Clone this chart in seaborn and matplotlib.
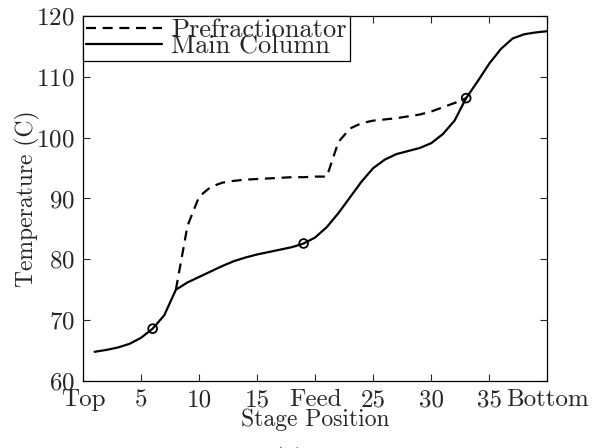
import numpy as np
import pandas as pd
import matplotlib
matplotlib.use("Agg")
import matplotlib.pyplot as plt
import seaborn as sns

# ========== DATOS ==========
stages_main = list(range(1, 41))
temp_main = [64.8, 65.1, 65.5, 66.1, 67.1, 68.6, 70.8, 75.0, 76.2, 77.1,
             78.0, 78.9, 79.7, 80.3, 80.8, 81.2, 81.6, 82.0, 82.6, 83.6,
             85.3, 87.6, 90.2, 92.8, 95.0, 96.4, 97.3, 97.8, 98.3, 99.1,
             100.6, 102.8, 106.5, 109.3, 112.2, 114.6, 116.3, 117.0, 117.3, 117.5]

stages_pre = list(range(8, 34))
temp_pre = [75.0, 85.5, 90.3, 91.9, 92.6, 92.9, 93.1, 93.2, 93.3, 93.4,
            93.5, 93.5, 93.6, 93.6, 99.3, 101.5, 102.4, 102.8, 103.0, 103.2,
            103.5, 103.8, 104.3, 105.0, 105.7, 106.5]

link_stages = [6, 19, 33]
link_temps = [68.6, 82.6, 106.5]

xtick_pos = [0, 5, 10, 15, 20, 25, 30, 35, 40]
xtick_labels = ["Top", "5", "10", "15", "Feed", "25", "30", "35", "Bottom"]
ytick_pos = [60, 70, 80, 90, 100, 110, 120]

df_main = pd.DataFrame({"Stage": stages_main, "Temp": temp_main})
df_pre = pd.DataFrame({"Stage": stages_pre, "Temp": temp_pre})
df_link = pd.DataFrame({"Stage": link_stages, "Temp": link_temps})

# ========== ESTILO ==========
sns.set_style("ticks")
plt.rcParams["font.family"] = ["cmr10", "DejaVu Serif"]
plt.rcParams["axes.unicode_minus"] = False
plt.rcParams["axes.formatter.use_mathtext"] = True

fig = plt.figure(figsize=(5.97, 4.48), dpi=100)
ax = fig.add_axes([0.139, 0.1496, 0.778, 0.8147])

# ========== GRAFICA ==========
sns.lineplot(data=df_pre, x="Stage", y="Temp", ax=ax, color="black",
             linestyle=(0, (4.5, 3)), linewidth=1.6, label="Prefractionator")
sns.lineplot(data=df_main, x="Stage", y="Temp", ax=ax, color="black",
             linewidth=1.6, label="Main Column")
ax.scatter(df_link["Stage"], df_link["Temp"], s=40, facecolors="none",
           edgecolors="black", linewidths=1.3, zorder=5)

ax.set_xlim(0, 40)
ax.set_ylim(60, 120)
ax.set_xticks(xtick_pos)
ax.set_xticklabels(xtick_labels)
ax.set_yticks(ytick_pos)
ax.tick_params(direction="in", length=5, width=0.8, top=True, right=True,
               labelsize=18, pad=6)
for s in ax.spines.values():
    s.set_linewidth(0.9)
    s.set_color("black")

ax.set_xlabel("Stage Position", fontsize=17, labelpad=-2)
ax.set_ylabel("Temperature (C)", fontsize=17, labelpad=-3)

leg = ax.legend(loc="upper left", fontsize=19, frameon=True, fancybox=False,
                edgecolor="black", framealpha=1, borderaxespad=0,
                labelspacing=-0.3, handlelength=2.9, handletextpad=0.35,
                borderpad=0.1)
leg.get_frame().set_linewidth(0.9)

fig.text(0.485, -0.04, "(b)", fontsize=17, ha="center", va="baseline")

fig.savefig("out.png", dpi=100)
